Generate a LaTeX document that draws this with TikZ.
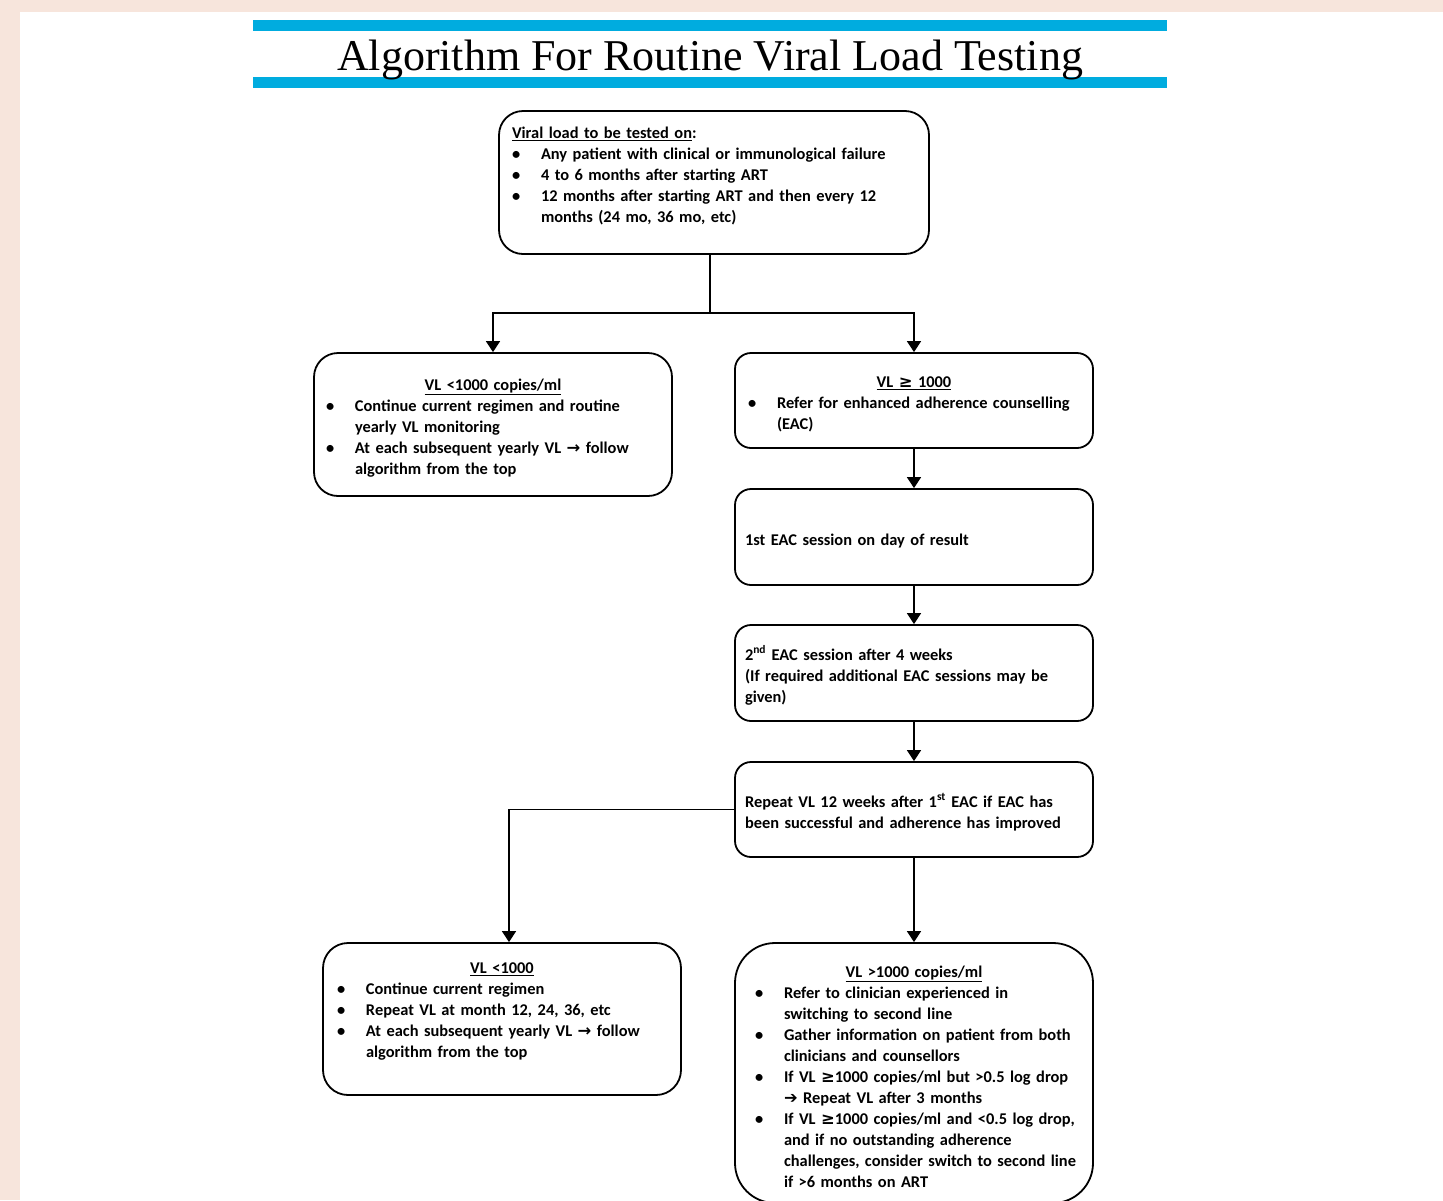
\documentclass[tikz,border=0pt]{standalone}
\usepackage{fontspec}
\setmainfont{Carlito}
\newfontfamily\titlefont{Liberation Serif}
\newfontfamily\arrowfont{DejaVu Sans}
\usetikzlibrary{arrows.meta}
\definecolor{pagepink}{RGB}{247,229,220}
\definecolor{barblue}{RGB}{0,172,223}
\newcommand{\vlitem}[1]{\makebox[29pt][l]{\textbullet}\mbox{#1}}
\newcommand{\vlcont}[1]{\hspace*{29pt}\mbox{#1}}
\newcommand{\vlhead}[1]{\makebox[\linewidth]{\underline{#1}}}
\newcommand{\vlpad}[1]{\\[#1]\rule{0pt}{0pt}}

\begin{document}
\begin{tikzpicture}[x=1pt,y=-1pt,
  flowbox/.style={draw,line width=1.8pt,inner sep=0pt,align=left,
    minimum width=358pt,font=\fontsize{16.4}{21}\selectfont\bfseries,
    execute at begin node={\rule{0pt}{19pt}}},
  flowarrow/.style={line width=1.5pt,-{Triangle[width=14pt,length=11pt]}}]
\useasboundingbox (0,0) rectangle (1443,1200);
\fill[pagepink] (0,0) rectangle (1443,1200);
\fill[white] (20,12) rectangle (1443,1200);
\fill[barblue] (253,20) rectangle (1167,31);
\fill[barblue] (253,77) rectangle (1167,88);
\node[font=\titlefont\fontsize{44}{50}\selectfont,anchor=base] (title) at (710,70)
  {Algorithm For Routine Viral Load Testing};
% top box
\node[flowbox,minimum width=430pt,minimum height=143pt,text width=404pt,
  rounded corners=24pt] (vltest) at (714,182.5) {%
  \underline{Viral load to be tested on}:\\
  \vlitem{Any patient with clinical or immunological failure}\\
  \vlitem{4 to 6 months after starting ART}\\
  \vlitem{12 months after starting ART and then every 12}\\
  \vlcont{months (24 mo, 36 mo, etc)}\vlpad{1.5pt}};
% first split
\node[flowbox,minimum height=143pt,text width=334pt,rounded corners=24pt]
  (vllow) at (493,424.5) {%
  \vlhead{VL <1000 copies/ml}\\
  \vlitem{Continue current regimen and routine}\\
  \vlcont{yearly VL monitoring}\\
  \vlitem{At each subsequent yearly VL {\arrowfont →} follow}\\
  \vlcont{algorithm from the top}};
\node[flowbox,minimum height=95pt,text width=332pt,rounded corners=16pt]
  (vlhigh) at (914,400.5) {%
  \vlhead{VL {\arrowfont ≥} 1000}\\
  \vlitem{Refer for enhanced adherence counselling}\\
  \vlcont{(EAC)}};
% EAC sessions
\node[flowbox,minimum height=96pt,text width=338pt,rounded corners=16pt]
  (eacone) at (914,537) {1st EAC session on day of result};
\node[flowbox,minimum height=96pt,text width=338pt,rounded corners=16pt]
  (eactwo) at (914,673) {%
  2\textsuperscript{nd} EAC session after 4 weeks\\
  (If required additional EAC sessions may be\\
  given)};
\node[flowbox,minimum height=95pt,text width=338pt,rounded corners=16pt]
  (repeatvl) at (914,809.5) {%
  Repeat VL 12 weeks after 1\textsuperscript{st} EAC if EAC has\\
  been successful and adherence has improved};
% second split
\node[flowbox,minimum height=152pt,text width=330pt,rounded corners=25pt]
  (vllow2) at (502,1019) {%
  \vlhead{VL <1000}\\
  \vlitem{Continue current regimen}\\
  \vlitem{Repeat VL at month 12, 24, 36, etc}\\
  \vlitem{At each subsequent yearly VL {\arrowfont →} follow}\\
  \vlcont{algorithm from the top}\vlpad{5.5pt}};
\node[flowbox,minimum height=260pt,text width=318pt,rounded corners=40pt]
  (vlfail) at (914,1073) {%
  \vlhead{VL >1000 copies/ml}\\
  \vlitem{Refer to clinician experienced in}\\
  \vlcont{switching to second line}\\
  \vlitem{Gather information on patient from both}\\
  \vlcont{clinicians and counsellors}\\
  \vlitem{If VL {\arrowfont ≥}1000 copies/ml but >0.5 log drop}\\
  \vlcont{{\arrowfont ➔} Repeat VL after 3 months}\\
  \vlitem{If VL {\arrowfont ≥}1000 copies/ml and <0.5 log drop,}\\
  \vlcont{and if no outstanding adherence}\\
  \vlcont{challenges, consider switch to second line}\\
  \vlcont{if >6 months on ART}};
% connectors
\coordinate (split) at (710,313);
\draw[line width=1.5pt] (split |- vltest.south) -- (split);
\draw[flowarrow] (split) -| (vllow.north);
\draw[flowarrow] (split) -| (vlhigh.north);
\draw[flowarrow] (vlhigh) -- (eacone);
\draw[flowarrow] (eacone) -- (eactwo);
\draw[flowarrow] (eactwo) -- (repeatvl);
\draw[flowarrow] (repeatvl.west) -| ([xshift=7pt]vllow2.north);
\draw[flowarrow] (repeatvl) -- (vlfail);
\end{tikzpicture}
\end{document}
